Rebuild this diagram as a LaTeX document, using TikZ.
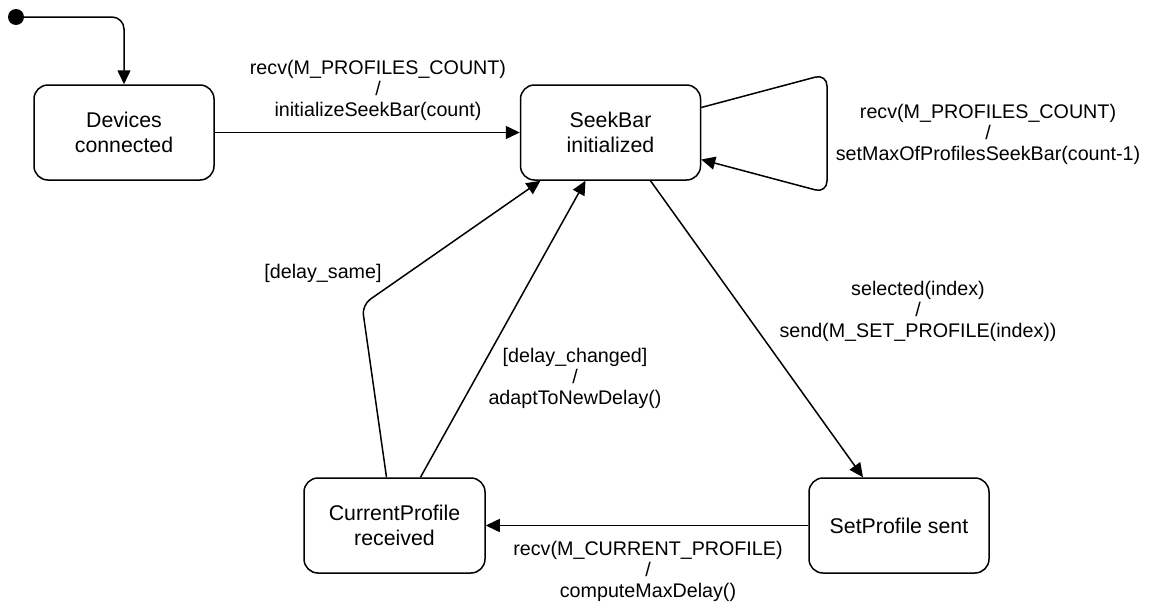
\documentclass[tikz,border=0pt]{standalone}
\usepackage{fontspec}
\setmainfont{Liberation Sans}
\usetikzlibrary{arrows.meta}
\begin{document}
\begin{tikzpicture}[x=1pt,y=-1pt,
  state/.style={draw, line width=1.5pt, rounded corners=14pt, minimum width=180pt, minimum height=95pt,
    align=center, inner sep=0pt, font=\fontsize{21.3}{25}\selectfont},
  lbl/.style={align=center, inner sep=0pt, font=\fontsize{19.7}{21}\selectfont},
  conn/.style={line width=1.5pt, -{Triangle[length=14pt,width=13pt]}},
]
\useasboundingbox (0,0) rectangle (1152,608);
\node[circle, fill, inner sep=0pt, minimum size=16pt] (init) at (16,17) {};
\node[state] (dev) at (124,132.5) {Devices\\connected};
\node[state] (seek) at (610.5,132.5) {SeekBar\\initialized};
\node[state, minimum width=181pt] (cur) at (394.5,525.5) {CurrentProfile\\received};
\node[state] (setp) at (899,525.5) {SetProfile sent};

\draw[conn, rounded corners=12pt] (init.center) -| (dev.north);
\draw[conn] (dev.east) -- (seek.west);
\draw[conn, rounded corners=12pt] ([yshift=25pt]seek.east) -- (827,74) -- (827,193) -- ([yshift=-27pt]seek.east);
\draw[conn] ([xshift=40pt]seek.south) -- ([xshift=-36pt]setp.north);
\draw[conn] (setp.west) -- (cur.east);
\draw[conn, rounded corners=10pt] ([xshift=-8pt]cur.north) -- (362,305) -- ([xshift=-70pt]seek.south);
\draw[conn] ([xshift=26pt]cur.north) -- ([xshift=-25pt]seek.south);

\node[lbl] (l1) at (378,90) {recv(M\_PROFILES\_COUNT)\\/\\initializeSeekBar(count)};
\node[lbl] (l2) at (988,134) {recv(M\_PROFILES\_COUNT)\\/\\setMaxOfProfilesSeekBar(count-1)};
\node[lbl] (l3) at (918,311) {selected(index)\\/\\send(M\_SET\_PROFILE(index))};
\node[lbl] (l4) at (323,273) {[delay\_same]};
\node[lbl] (l5) at (575,378) {[delay\_changed]\\/\\adaptToNewDelay()};
\node[lbl] (l6) at (648,571) {recv(M\_CURRENT\_PROFILE)\\/\\computeMaxDelay()};
\end{tikzpicture}
\end{document}
